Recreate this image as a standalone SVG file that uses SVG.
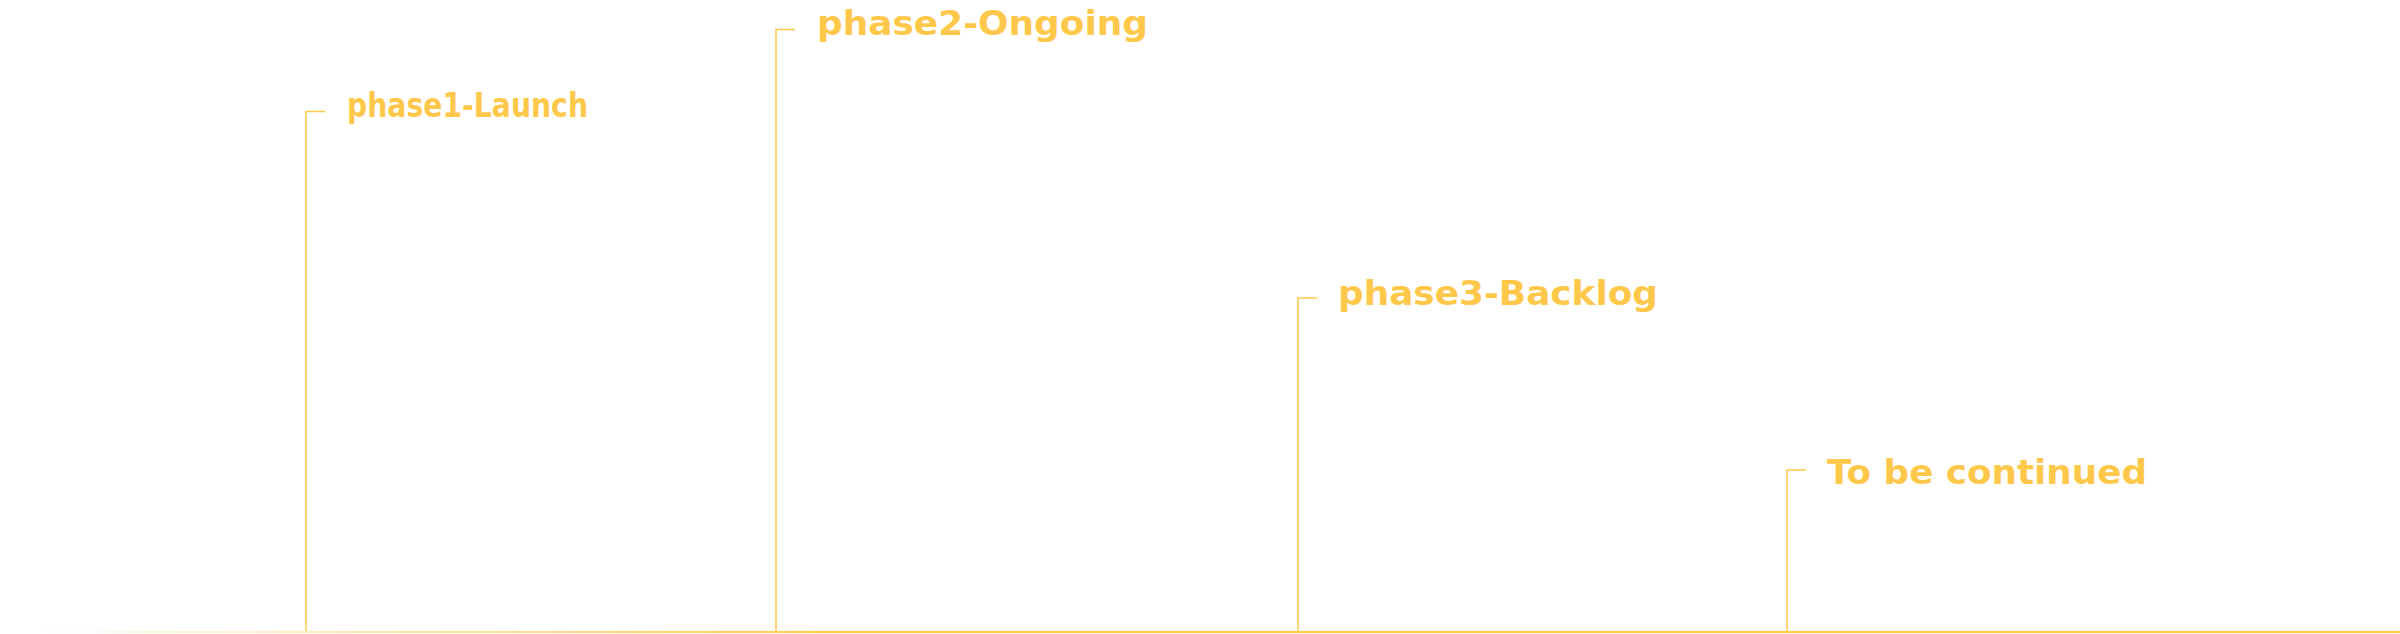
<svg xmlns="http://www.w3.org/2000/svg" width="2400" height="634" viewBox="0 0 2400 634">
  <defs>
    <linearGradient id="baseGrad" gradientUnits="userSpaceOnUse" x1="20" y1="0" x2="820" y2="0">
      <stop offset="0" stop-color="#FFC84A" stop-opacity="0"/>
      <stop offset="1" stop-color="#FFC84A" stop-opacity="1"/>
    </linearGradient>
    <style>
      .bracket { fill: none; stroke: #FFC84A; stroke-width: 1.5; }
      .label { fill: #FFC84A; font-family: "DejaVu Sans", "Liberation Sans", sans-serif; font-weight: bold; font-size: 33px; }
    </style>
  </defs>
  <rect x="0" y="0" width="2400" height="634" fill="#FFFFFF"/>
  <g id="connectors">
    <rect x="0" y="631" width="2400" height="2" fill="url(#baseGrad)"/>
    <polyline class="bracket" points="325,111.5 306,111.5 306,631"/>
    <polyline class="bracket" points="795,29.5 776,29.5 776,631"/>
    <polyline class="bracket" points="1317,298 1298,298 1298,631"/>
    <polyline class="bracket" points="1806,470 1787,470 1787,631"/>
  </g>
  <g id="phase1">
    <text class="label" x="347" y="117" textLength="241" lengthAdjust="spacingAndGlyphs">phase1-Launch</text>
  </g>
  <g id="phase2">
    <text class="label" x="817" y="35" textLength="331" lengthAdjust="spacingAndGlyphs">phase2-Ongoing</text>
  </g>
  <g id="phase3">
    <text class="label" x="1338" y="305" textLength="320" lengthAdjust="spacingAndGlyphs">phase3-Backlog</text>
  </g>
  <g id="continued">
    <text class="label" x="1827" y="484" textLength="320" lengthAdjust="spacingAndGlyphs">To be continued</text>
  </g>
</svg>
